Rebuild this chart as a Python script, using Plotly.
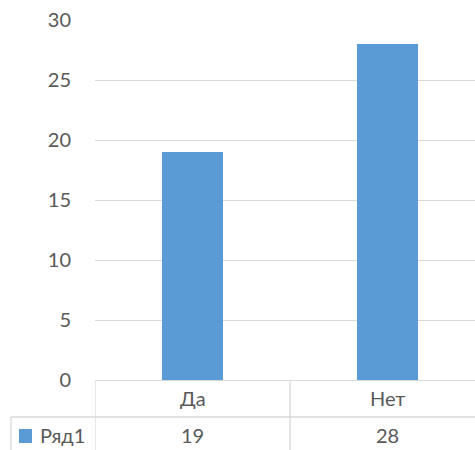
import plotly.graph_objects as go

categories = ["Да", "Нет"]
values = [19, 28]
series_name = "Ряд1"
y_ticks = [0, 5, 10, 15, 20, 25, 30]

BLUE = "#5B9BD5"
GRID = "#D9D9D9"
TEXT = "#595959"
FONT = "Lato"
FS = 20

W, H = 475, 450
ML, MR, MT, MB = 95, 0, 20, 70
PW = W - ML - MR
PH = H - MT - MB
CAT_W = 195  # px per category

def px_x(px):
    return (px - ML) / PW

def px_y(py):
    return (H - MB - py) / PH

fig = go.Figure()
fig.add_trace(go.Bar(x=categories, y=values, marker=dict(color=BLUE, line=dict(width=0)),
                     name=series_name, showlegend=False))

shapes = []
line = dict(color=GRID, width=1.3)
row1_bottom = 417
shapes.append(dict(type="line", xref="paper", yref="paper", x0=px_x(11), x1=1, y0=px_y(row1_bottom), y1=px_y(row1_bottom), line=line))
for i in range(len(categories) + 1):
    shapes.append(dict(type="line", xref="x", yref="paper", x0=i - 0.5, x1=i - 0.5, y0=0, y1=px_y(H), line=line))
shapes.append(dict(type="line", xref="paper", yref="paper", x0=px_x(11), x1=px_x(11), y0=px_y(row1_bottom), y1=px_y(H), line=line))
shapes.append(dict(type="rect", xref="paper", yref="paper", x0=px_x(19), x1=px_x(32), y0=px_y(443), y1=px_y(429),
                   fillcolor=BLUE, line=dict(width=0)))

annotations = []
for c, v in zip(categories, values):
    annotations.append(dict(x=c, xref="x", y=px_y(398), yref="paper", text=c, showarrow=False,
                            font=dict(family=FONT, size=FS, color=TEXT), xanchor="center", yanchor="middle"))
    annotations.append(dict(x=c, xref="x", y=px_y(435), yref="paper", text=str(v), showarrow=False,
                            font=dict(family=FONT, size=FS, color=TEXT), xanchor="center", yanchor="middle"))
annotations.append(dict(x=px_x(38), xref="paper", y=px_y(435), yref="paper", text=series_name, showarrow=False,
                        font=dict(family=FONT, size=FS, color=TEXT), xanchor="left", yanchor="middle"))

fig.update_layout(
    width=W, height=H,
    margin=dict(l=ML, r=MR, t=MT, b=MB),
    paper_bgcolor="white", plot_bgcolor="white",
    bargap=1 - 61 / CAT_W,
    font=dict(family=FONT, size=FS, color=TEXT),
    shapes=shapes, annotations=annotations,
    xaxis=dict(type="category", range=[-0.5, -0.5 + PW / CAT_W], showticklabels=False, showgrid=False,
               showline=True, linecolor=GRID, linewidth=1.3, ticks="", zeroline=False, fixedrange=True),
    yaxis=dict(range=[0, 30], tickvals=y_ticks, showgrid=True, gridcolor=GRID, gridwidth=1.3,
               zeroline=False, showline=False, ticks="", ticklabelstandoff=23,
               tickfont=dict(family=FONT, size=FS, color=TEXT), fixedrange=True),
)

fig.write_html("out.html", config={"displayModeBar": False},
               post_script="document.body.style.margin='0';document.body.style.overflow='hidden';")
